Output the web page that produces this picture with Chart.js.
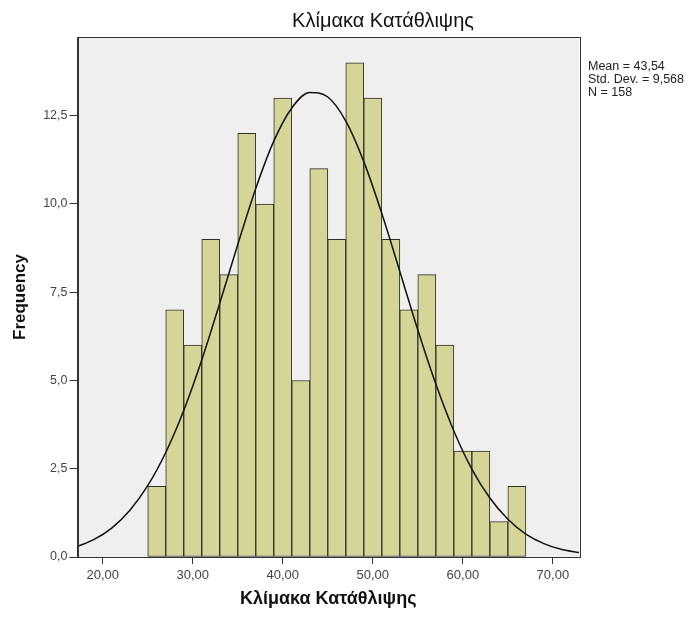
<!DOCTYPE html>
<html>
<head>
<meta charset="utf-8">
<script src="https://cdn.jsdelivr.net/npm/chart.js@4/dist/chart.umd.min.js"></script>
<style>
  html, body { margin: 0; padding: 0; background: #ffffff; }
  #wrap { width: 694px; height: 618px; }
</style>
</head>
<body>
<div id="wrap"><canvas id="hist"></canvas></div>
<script>
// Histogramme : Κλίμακα Κατάθλιψης (bins de largeur 2, de 25 à 67)
const binCenters = [26, 28, 30, 32, 34, 36, 38, 40, 42, 44, 46, 48, 50, 52, 54, 56, 58, 60, 62, 64, 66];
const frequencies = [2, 7, 6, 9, 8, 12, 10, 13, 5, 11, 9, 14, 13, 9, 7, 8, 6, 3, 3, 1, 2];

// Courbe normale
const curveX = [17, 19, 21, 23, 25, 27, 29, 31, 33, 35, 37, 39, 41, 43, 45, 47, 49, 51, 53, 55, 57, 59, 61, 63, 65, 67, 69, 71, 73];
const curveY = [0.28, 0.49, 0.82, 1.32, 2.02, 2.96, 4.15, 5.58, 7.19, 8.85, 10.44, 11.78, 12.72, 13.16, 13.03, 12.35, 11.2, 9.73, 8.09, 6.43, 4.9, 3.57, 2.49, 1.67, 1.07, 0.65, 0.38, 0.21, 0.12];

const xTicks = [20, 30, 40, 50, 60, 70];
const yTicks = [0, 2.5, 5, 7.5, 10, 12.5];
const statsLines = ["Mean = 43,54", "Std. Dev. = 9,568", "N = 158"];
const chartTitle = "Κλίμακα Κατάθλιψης";
const xTitle = "Κλίμακα Κατάθλιψης";
const yTitle = "Frequency";

const FONT = "'Liberation Sans', Arial, sans-serif";

// Fond gris, cadre, titre et statistiques
const decorPlugin = {
  id: "decor",
  beforeDraw(chart) {
    const { ctx, chartArea: a } = chart;
    ctx.save();
    ctx.fillStyle = "#efeff0";
    ctx.fillRect(a.left, a.top, a.right - a.left, a.bottom - a.top);
    ctx.restore();
  },
  afterDraw(chart) {
    const { ctx, chartArea: a } = chart;
    ctx.save();
    ctx.strokeStyle = "#333333";
    ctx.lineWidth = 1;
    ctx.strokeRect(Math.round(a.left) + 0.5, Math.round(a.top) + 0.5,
      Math.round(a.right - a.left), Math.round(a.bottom - a.top));

    ctx.fillStyle = "#111111";
    ctx.font = "20px " + FONT;
    ctx.textAlign = "center";
    ctx.textBaseline = "middle";
    ctx.fillText(chartTitle, 383, 21);

    ctx.font = "12.5px " + FONT;
    ctx.textAlign = "left";
    ctx.fillStyle = "#222222";
    statsLines.forEach((line, i) => {
      ctx.fillText(line, 588, 67 + i * 13);
    });
    ctx.restore();
  },
};

const barData = binCenters.map((x, i) => ({ x: x, y: frequencies[i] }));
const lineData = curveX.map((x, i) => ({ x: x, y: curveY[i] }));

new Chart("hist", {
  type: "bar",
  data: {
    datasets: [
      {
        type: "line",
        data: lineData,
        borderColor: "#111111",
        borderWidth: 1.5,
        pointRadius: 0,
        cubicInterpolationMode: "monotone",
        fill: false,
        order: 0,
      },
      {
        type: "bar",
        data: barData,
        backgroundColor: "#d5d598",
        borderColor: "#2f2f2a",
        borderWidth: 1,
        borderSkipped: false,
        barPercentage: 1,
        categoryPercentage: 1,
        order: 1,
      },
    ],
  },
  options: {
    responsive: true,
    maintainAspectRatio: false,
    animation: false,
    layout: { padding: { left: 0, right: 115, top: 37, bottom: 0 } },
    plugins: {
      legend: { display: false },
      tooltip: { enabled: false },
    },
    scales: {
      x: {
        type: "linear",
        min: 17.2,
        max: 72.9,
        offset: false,
        afterFit: (s) => { s.height = 618 - 37 - 520; },
        afterBuildTicks: (s) => { s.ticks = xTicks.map((v) => ({ value: v })); },
        ticks: {
          callback: (v) => v.toFixed(2).replace(".", ","),
          color: "#444444",
          font: { family: FONT, size: 13 },
          padding: 4,
          maxRotation: 0,
        },
        grid: { offset: false, drawOnChartArea: false, drawTicks: true, tickLength: 7, color: "#333333" },
        border: { display: true, color: "#333333", width: 1 },
        title: {
          display: true,
          text: xTitle,
          color: "#111111",
          font: { family: FONT, size: 18, weight: "bold" },
          padding: { top: 0, bottom: 8 },
        },
      },
      y: {
        min: 0,
        max: 14.73,
        afterFit: (s) => { s.width = 77.5; },
        afterBuildTicks: (s) => { s.ticks = yTicks.map((v) => ({ value: v })); },
        ticks: {
          callback: (v) => v.toFixed(1).replace(".", ","),
          color: "#444444",
          font: { family: FONT, size: 12.5 },
          padding: 2,
        },
        grid: { drawOnChartArea: false, drawTicks: true, tickLength: 8, color: "#333333" },
        border: { display: true, color: "#333333", width: 1 },
        title: {
          display: true,
          text: yTitle,
          color: "#111111",
          font: { family: FONT, size: 17, weight: "bold" },
          padding: { top: 10, bottom: 0 },
        },
      },
    },
  },
  plugins: [decorPlugin],
});
</script>
</body>
</html>
